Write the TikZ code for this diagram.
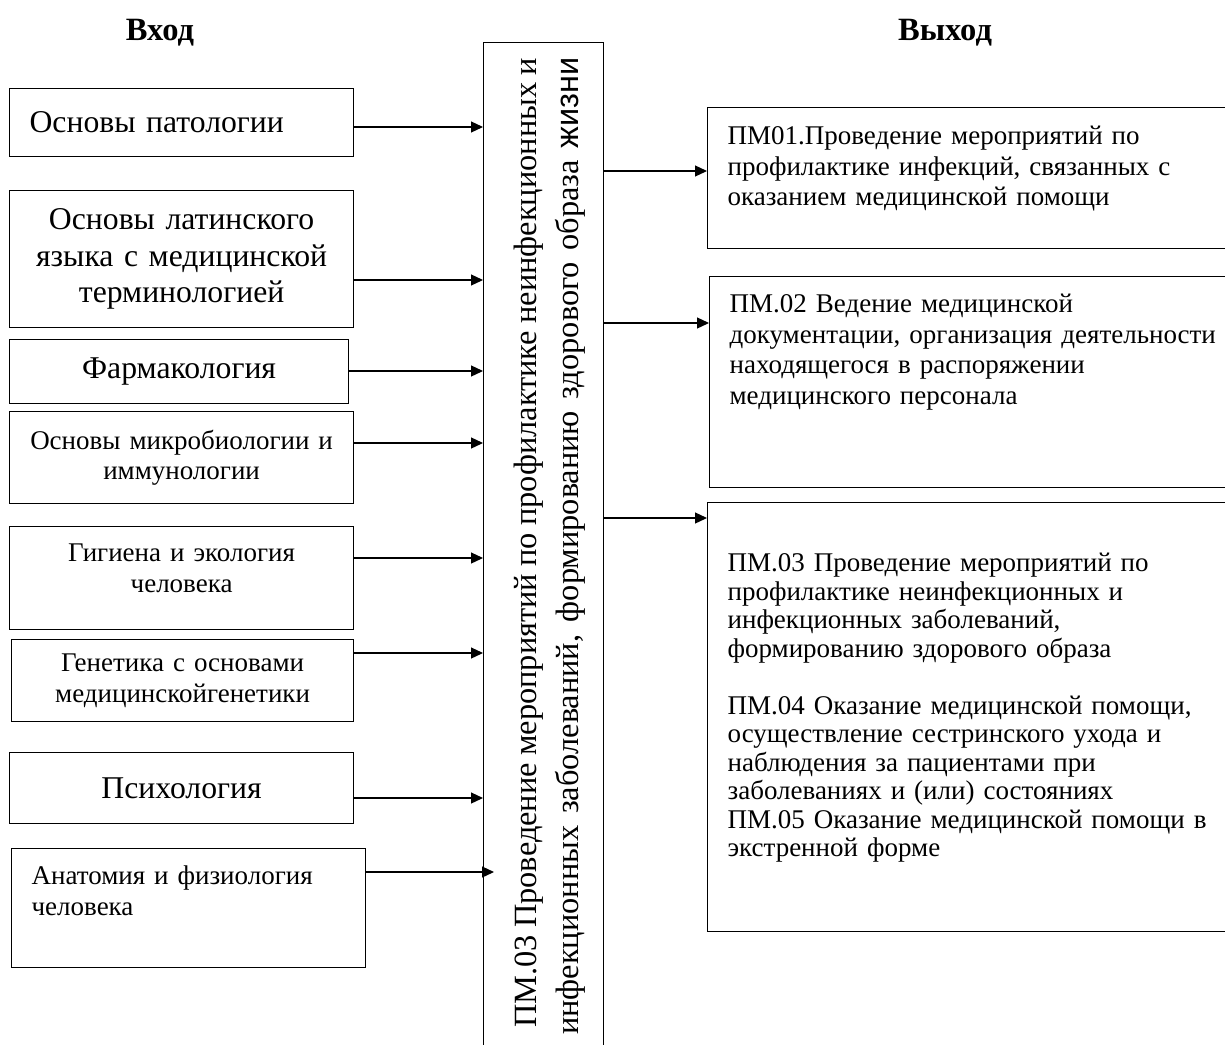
\documentclass[tikz,border=0pt]{standalone}
\usepackage{fontspec}
\setmainfont{Liberation Serif}
\newfontfamily\sansfnt{Liberation Sans}
\usetikzlibrary{arrows.meta}
\newcommand{\bigtxt}{\fontsize{31.7}{36.5}\selectfont}
\newcommand{\medtxt}{\fontsize{27}{30.5}\selectfont}
\tikzset{inbox/.style={draw, line width=1.2pt, anchor=north west, inner xsep=20pt, inner ysep=0pt, align=center},}
\tikzset{outbox/.style={draw, line width=1.2pt, anchor=north west, inner xsep=20pt, inner ysep=0pt, align=left, font=\medtxt},}
\tikzset{feed/.style={-{Triangle[length=12pt,width=11pt]}, line width=1.2pt},}
\tikzset{vline/.style={rotate=90, anchor=base west, inner sep=0pt, font=\fontsize{32.4}{37}\selectfont},}

\begin{document}
\begin{tikzpicture}[x=1pt,y=-1pt]
     \useasboundingbox (0,0) rectangle (1225,1044);
     \clip (0,0) rectangle (1225,1044);

     % headings
     \node[font=\fontsize{32.5}{36}\selectfont\bfseries] (vhod) at (160,33) {Вход};
     \node[font=\fontsize{32.5}{36}\selectfont\bfseries] (vyhod) at (945,33) {Выход};

     % module in the middle
     \node[draw, line width=1.2pt, anchor=north west, minimum width=120pt, minimum height=1040pt, inner sep=0pt] (pmbox) at (483,42) {};
     \node[vline] (pmline1) at (536,1028) {\makebox[970pt][s]{ПМ.03 Проведение мероприятий по профилактике неинфекционных и}};
     \node[vline] (pmline2) at (578,1035) {\makebox[977pt][s]{инфекционных заболеваний, формированию здорового образа {\sansfnt жизни}}};

     % disciplines
     \node[inbox, text width=304pt, minimum height=68pt, align=left, font=\bigtxt] (patol) at (9,88) {Основы патологии};
     \node[inbox, text width=304pt, minimum height=137pt, font=\bigtxt] (latin) at (9,190) {Основы латинского\\ языка с медицинской\\ терминологией};
     \node[inbox, text width=299pt, minimum height=64pt, font=\bigtxt] (pharm) at (9,339) {Фармакология};
     \node[inbox, text width=304pt, minimum height=92pt, font=\medtxt] (micro) at (9,411) {Основы микробиологии и\\ иммунологии};
     \node[inbox, text width=304pt, text height=35pt, text depth=68pt, font=\medtxt] (hyg) at (9,526) {Гигиена и экология\\ человека};
     \node[inbox, text width=302pt, minimum height=82pt, font=\medtxt] (gen) at (11,639) {Генетика с основами\\ медицинскойгенетики};
     \node[inbox, text width=304pt, minimum height=71pt, font=\bigtxt] (psy) at (9,752) {Психология};
     \node[inbox, text width=314pt, text height=36pt, text depth=83pt, align=left, font=\medtxt] (anat) at (11,848) {Анатомия и физиология\\ человека};

     % results
     \node[outbox, text width=493pt, text height=37pt, text depth=104pt] (pm1) at (707,107) {ПМ01.Проведение мероприятий по\\ профилактике инфекций, связанных с\\ оказанием медицинской помощи};
     \node[outbox, text width=491pt, text height=36pt, text depth=175pt] (pm2) at (709,276) {ПМ.02 Ведение медицинской\\ документации, организация деятельности\\ находящегося в распоряжении\\ медицинского персонала};
     \node[outbox, text width=493pt, text height=69pt, text depth=360pt, font=\fontsize{27}{28.5}\selectfont] (pm3) at (707,502) {ПМ.03 Проведение мероприятий по\\ профилактике неинфекционных и\\ инфекционных заболеваний,\\ формированию здорового образа\\[28.5pt] ПМ.04 Оказание медицинской помощи,\\ осуществление сестринского ухода и\\ наблюдения за пациентами при\\ заболеваниях и (или) состояниях\\ ПМ.05 Оказание медицинской помощи в\\ экстренной форме};

     \draw[feed] (patol.east |- 0,127) -- (pmbox.west |- 0,127);
     \draw[feed] (latin.east |- 0,280) -- (pmbox.west |- 0,280);
     \draw[feed] (pharm.east |- 0,371) -- (pmbox.west |- 0,371);
     \draw[feed] (micro.east |- 0,443) -- (pmbox.west |- 0,443);
     \draw[feed] (hyg.east |- 0,558) -- (pmbox.west |- 0,558);
     \draw[feed] (gen.east |- 0,653) -- (pmbox.west |- 0,653);
     \draw[feed] (psy.east |- 0,798) -- (pmbox.west |- 0,798);
     \draw[feed] (anat.east |- 0,872) -- ([xshift=11pt]pmbox.west |- 0,872);

     \draw[feed] (pmbox.east |- 0,171) -- (pm1.west |- 0,171);
     \draw[feed] (pmbox.east |- 0,323) -- (pm2.west |- 0,323);
     \draw[feed] (pmbox.east |- 0,518) -- (pm3.west |- 0,518);
\end{tikzpicture}
\end{document}
